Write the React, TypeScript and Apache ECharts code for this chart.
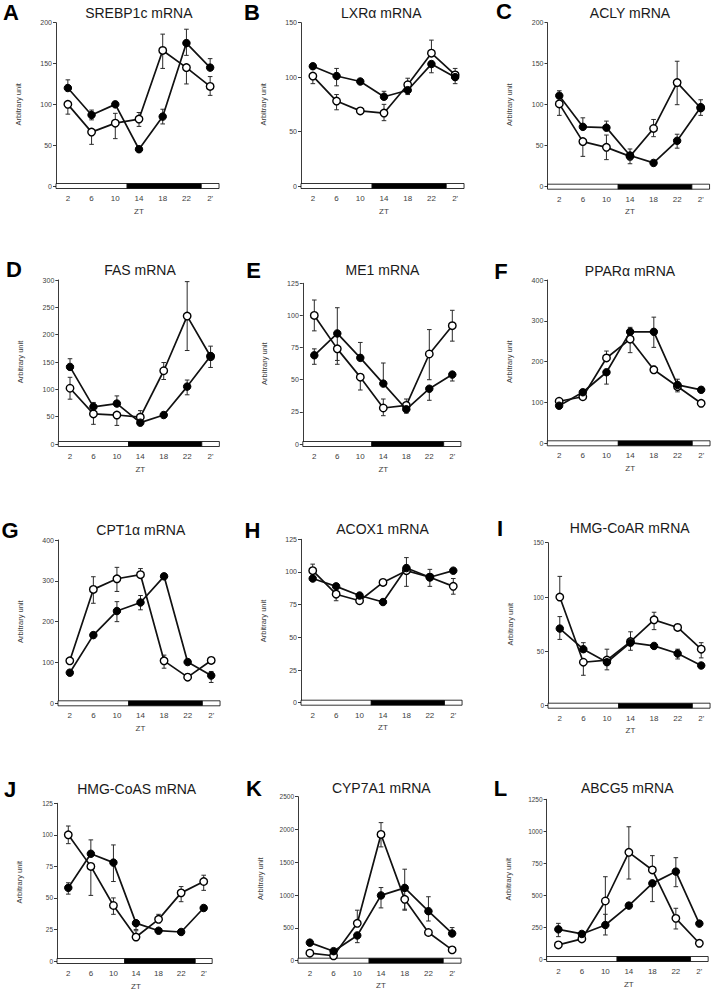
import React, { useEffect, useRef } from 'react';
import * as echarts from 'echarts';

const ztLabels = ['2', '6', '10', '14', '18', '22', "2'"];
// light/dark phases in hours: [start, end, dark]
const lightDark = [
  [0, 12, 0],
  [12, 24.5, 1],
  [24.5, 27.5, 0],
];

const panelLetters = ['A', 'B', 'C', 'D', 'E', 'F', 'G', 'H', 'I', 'J', 'K', 'L'];
const panelTitles = [
  'SREBP1c mRNA', 'LXRα mRNA', 'ACLY mRNA',
  'FAS mRNA', 'ME1 mRNA', 'PPARα mRNA',
  'CPT1α mRNA', 'ACOX1 mRNA', 'HMG-CoAR mRNA',
  'HMG-CoAS mRNA', 'CYP7A1 mRNA', 'ABCG5 mRNA',
];
const yMax = [200, 150, 200, 300, 125, 400, 400, 125, 150, 125, 2500, 1250];
const yStep = [50, 50, 50, 50, 25, 100, 100, 25, 50, 25, 500, 250];

const openMean = [
  [100, 66, 77, 82, 166, 145, 122],
  [101, 78, 69, 67, 93, 122, 102],
  [101, 55, 48, 37, 71, 127, 96],
  [102, 55, 53, 49, 134, 234, 160],
  [100, 74, 52, 28, 30, 70, 92],
  [103, 114, 209, 255, 180, 139, 98],
  [104, 279, 305, 315, 104, 64, 105],
  [101, 83, 78, 92, 101, 96, 89],
  [100, 40, 42, 59, 79, 72, 52],
  [100, 75, 44, 19, 33, 54, 63],
  [115, 75, 570, 1925, 935, 430, 165],
  [110, 157, 454, 835, 697, 318, 123],
];
const openErrUp = [
  [0, 0, 12, 8, 20, 0, 12],
  [0, 6, 0, 8, 6, 12, 0],
  [0, 0, 15, 0, 11, 26, 0],
  [20, 0, 0, 12, 15, 63, 0],
  [12, 0, 0, 7, 5, 19, 12],
  [0, 0, 17, 0, 9, 0, 0],
  [0, 31, 28, 15, 14, 0, 0],
  [5, 0, 0, 0, 10, 0, 6],
  [19, 0, 10, 0, 7, 0, 6],
  [7, 0, 6, 5, 4, 5, 5],
  [0, 0, 200, 180, 0, 0, 0],
  [0, 0, 190, 200, 112, 79, 0],
];
const openErrDown = [
  [12, 15, 19, 9, 22, 20, 11],
  [7, 8, 0, 7, 0, 0, 8],
  [14, 18, 15, 9, 10, 27, 0],
  [20, 19, 19, 0, 16, 63, 0],
  [12, 12, 10, 6, 0, 20, 12],
  [0, 0, 0, 33, 0, 13, 0],
  [0, 34, 31, 0, 18, 0, 0],
  [0, 5, 0, 0, 12, 0, 6],
  [0, 12, 0, 8, 9, 0, 8],
  [7, 23, 7, 0, 0, 7, 7],
  [0, 0, 0, 190, 150, 0, 0],
  [0, 0, 193, 209, 0, 83, 0],
];
const filledMean = [
  [120, 87, 100, 45, 85, 175, 145],
  [110, 101, 96, 82, 88, 112, 100],
  [111, 73, 72, 38, 29, 56, 97],
  [141, 68, 74, 39, 53, 105, 161],
  [69, 86, 67, 47, 27, 43, 54],
  [92, 125, 174, 273, 273, 143, 131],
  [75, 167, 226, 247, 311, 101, 68],
  [95, 89, 82, 77, 103, 96, 101],
  [71, 52, 40, 58, 55, 48, 37],
  [58, 85, 78, 30, 24, 23, 42],
  [275, 145, 385, 995, 1110, 755, 415],
  [232, 196, 266, 418, 592, 684, 277],
];
const filledErrUp = [
  [10, 6, 0, 0, 9, 17, 11],
  [0, 7, 0, 5, 0, 0, 8],
  [6, 11, 8, 8, 0, 8, 9],
  [15, 8, 14, 0, 0, 12, 18],
  [5, 20, 12, 16, 0, 0, 0],
  [0, 0, 0, 11, 36, 14, 0],
  [0, 0, 23, 17, 0, 0, 10],
  [0, 0, 0, 0, 0, 6, 0],
  [11, 6, 0, 10, 0, 4, 0],
  [4, 11, 14, 0, 0, 0, 0],
  [0, 0, 0, 120, 285, 220, 90],
  [47, 0, 84, 0, 0, 109, 0],
];
const filledErrDown = [
  [0, 6, 0, 0, 9, 15, 0],
  [0, 9, 0, 0, 4, 8, 0],
  [0, 0, 0, 0, 0, 9, 10],
  [0, 0, 0, 0, 0, 15, 21],
  [7, 21, 0, 0, 3, 9, 5],
  [0, 0, 29, 0, 38, 0, 0],
  [0, 0, 26, 18, 0, 0, 17],
  [0, 0, 0, 0, 0, 7, 0],
  [10, 0, 7, 0, 0, 5, 0],
  [5, 0, 15, 5, 0, 0, 0],
  [0, 0, 110, 190, 340, 150, 0],
  [57, 0, 78, 0, 143, 118, 0],
];

// layout (pixels): grid [left, top, width, height]
const gridBoxes = [
  [56, 22.7, 166, 163.3],
  [301, 22.7, 166, 163.3],
  [547.5, 22.7, 165, 164],
  [58.3, 280, 164, 164],
  [302.8, 283.3, 161, 160.7],
  [547.3, 280, 166, 163.3],
  [58, 540, 165, 163.3],
  [301, 539.3, 164, 163.4],
  [548, 542.7, 165, 163],
  [57, 803.3, 158, 157.7],
  [298, 796.7, 166, 164],
  [546.6, 799.3, 164.5, 159.7],
];
const titlePos = [
  [138.8, 12.5], [381.3, 12.5], [630, 13.3],
  [140, 270], [382.5, 270], [630, 271],
  [140.8, 530], [382.5, 529.3], [629.7, 528.3],
  [136.7, 789.3], [381.3, 788.3], [627.2, 788.3],
];
const letterPos = [
  [11, 12.5], [252, 12.5], [504, 11.5],
  [14, 269], [253.5, 270], [501, 271],
  [10, 530], [252.5, 530], [500, 528],
  [10, 789], [254, 788], [500.5, 788],
];

const FONT = 'Liberation Sans, Arial, Helvetica, sans-serif';
const AXIS_COLOR = '#3a3a3a';
const TEXT_COLOR = '#404040';

function renderErr(params: any, api: any) {
  const i = api.value(0);
  const m = api.value(1);
  const up = api.value(2);
  const dn = api.value(3);
  const c = api.coord([i, m]);
  const cap = 2.3;
  const st = { stroke: '#2a2a2a', lineWidth: 1 };
  const children: any[] = [];
  if (up > 0) {
    const t = api.coord([i, m + up]);
    children.push({ type: 'line', shape: { x1: c[0], y1: c[1], x2: t[0], y2: t[1] }, style: st });
    children.push({ type: 'line', shape: { x1: t[0] - cap, y1: t[1], x2: t[0] + cap, y2: t[1] }, style: st });
  }
  if (dn > 0) {
    const b = api.coord([i, m - dn]);
    children.push({ type: 'line', shape: { x1: c[0], y1: c[1], x2: b[0], y2: b[1] }, style: st });
    children.push({ type: 'line', shape: { x1: b[0] - cap, y1: b[1], x2: b[0] + cap, y2: b[1] }, style: st });
  }
  return { type: 'group', children };
}

function renderPhase(params: any, api: any) {
  const base = api.coord([0, 0]);
  const bw = api.size([1, 0])[0];
  const s = api.value(2);
  const e = api.value(3);
  const dark = api.value(4);
  const x1 = base[0] + ((s - 2) / 4) * bw;
  const x2 = base[0] + ((e - 2) / 4) * bw;
  return {
    type: 'rect',
    shape: { x: x1, y: base[1] - 2.5, width: x2 - x1, height: 5 },
    style: { fill: dark ? '#000' : '#fff', stroke: '#000', lineWidth: 0.8 },
  };
}

function buildOption() {
  const grid: any[] = [];
  const xAxis: any[] = [];
  const yAxis: any[] = [];
  const series: any[] = [];
  const graphic: any[] = [];

  for (let p = 0; p < 12; p++) {
    const [l, t, w, h] = gridBoxes[p];
    const small = p >= 8;
    grid.push({ left: l, top: t, width: w, height: h, containLabel: false });
    xAxis.push({
      type: 'category',
      gridIndex: p,
      data: ztLabels,
      boundaryGap: true,
      axisLine: { show: false },
      axisTick: { show: false },
      axisLabel: { fontSize: 8, color: TEXT_COLOR, fontFamily: FONT, margin: 8.5 },
      name: 'ZT',
      nameLocation: 'middle',
      nameGap: 21,
      nameTextStyle: { fontSize: 8, color: TEXT_COLOR, fontFamily: FONT },
      splitLine: { show: false },
    });
    yAxis.push({
      type: 'value',
      gridIndex: p,
      min: 0,
      max: yMax[p],
      interval: yStep[p],
      axisLine: { show: true, lineStyle: { color: AXIS_COLOR, width: 1 } },
      axisTick: { show: true, length: 3, lineStyle: { color: AXIS_COLOR, width: 1 } },
      axisLabel: {
        fontSize: small ? 6.5 : 7,
        color: TEXT_COLOR,
        fontFamily: FONT,
        margin: 4,
        formatter: (v: number) => String(v),
      },
      splitLine: { show: false },
      name: 'Arbitrary unit',
      nameLocation: 'middle',
      nameGap: 34,
      nameTextStyle: { fontSize: 7.5, color: TEXT_COLOR, fontFamily: FONT },
    });

    series.push({
      type: 'custom',
      xAxisIndex: p,
      yAxisIndex: p,
      renderItem: renderPhase,
      data: lightDark.map(([s, e, d]) => [0, 0, s, e, d]),
      encode: { x: 0, y: 1 },
      z: 1,
      silent: true,
    });
    series.push({
      type: 'custom',
      xAxisIndex: p,
      yAxisIndex: p,
      renderItem: renderErr,
      data: openMean[p].map((m, j) => [j, m, openErrUp[p][j], openErrDown[p][j]]),
      encode: { x: 0, y: 1 },
      z: 2,
      silent: true,
    });
    series.push({
      type: 'custom',
      xAxisIndex: p,
      yAxisIndex: p,
      renderItem: renderErr,
      data: filledMean[p].map((m, j) => [j, m, filledErrUp[p][j], filledErrDown[p][j]]),
      encode: { x: 0, y: 1 },
      z: 2,
      silent: true,
    });
    series.push({
      type: 'line',
      xAxisIndex: p,
      yAxisIndex: p,
      data: openMean[p],
      symbol: 'circle',
      symbolSize: 7.5,
      showSymbol: true,
      lineStyle: { color: '#111', width: 1.7 },
      itemStyle: { color: '#fff', borderColor: '#000', borderWidth: 1.4 },
      z: 3,
      silent: true,
    });
    series.push({
      type: 'line',
      xAxisIndex: p,
      yAxisIndex: p,
      data: filledMean[p],
      symbol: 'circle',
      symbolSize: 7.5,
      showSymbol: true,
      lineStyle: { color: '#111', width: 1.7 },
      itemStyle: { color: '#000', borderColor: '#000', borderWidth: 1 },
      z: 4,
      silent: true,
    });

    graphic.push({
      type: 'text',
      x: titlePos[p][0],
      y: titlePos[p][1],
      style: {
        text: panelTitles[p],
        align: 'center',
        verticalAlign: 'middle',
        fontSize: 14,
        fontFamily: FONT,
        fill: '#1a1a1a',
      },
    });
    graphic.push({
      type: 'text',
      x: letterPos[p][0],
      y: letterPos[p][1],
      style: {
        text: panelLetters[p],
        align: 'center',
        verticalAlign: 'middle',
        fontSize: 22,
        fontWeight: 'bold',
        fontFamily: FONT,
        fill: '#000',
      },
    });
  }

  return {
    animation: false,
    backgroundColor: '#fff',
    textStyle: { fontFamily: FONT },
    grid,
    xAxis,
    yAxis,
    series,
    graphic,
  };
}

export default function App() {
  const ref = useRef<HTMLDivElement>(null);
  useEffect(() => {
    if (!ref.current) return;
    const chart = echarts.init(ref.current, undefined, { renderer: 'svg' });
    chart.setOption(buildOption() as any);
    return () => chart.dispose();
  }, []);
  return (
    <div
      ref={ref}
      style={{ position: 'absolute', left: 0, top: 0, width: 713, height: 992, background: '#fff' }}
    />
  );
}
